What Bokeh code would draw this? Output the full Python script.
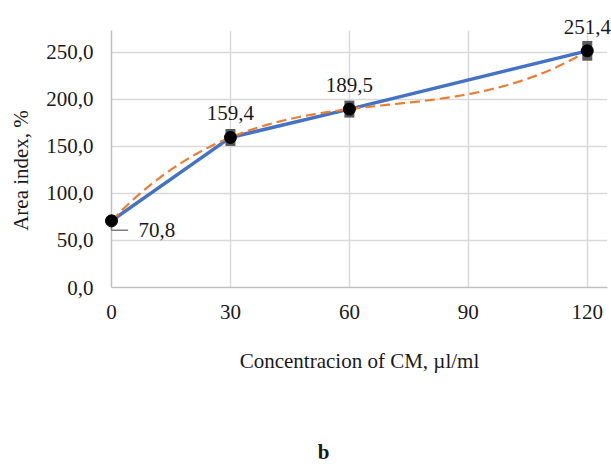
import numpy as np
from bokeh.plotting import figure
from bokeh.models import Range1d, FixedTicker
from bokeh.core.properties import value
from bokeh.embed import file_html
from bokeh.resources import INLINE

# ---- data ----
conc = [0, 30, 60, 120]
area = [70.8, 159.4, 189.5, 251.4]
err = [0.0, 9.0, 9.0, 10.5]
point_labels = ["70,8", "159,4", "189,5", "251,4"]
x_ticks = [0, 30, 60, 90, 120]
y_ticks = [0, 50, 100, 150, 200, 250]
y_tick_labels = ["0,0", "50,0", "100,0", "150,0", "200,0", "250,0"]
x_title = "Concentracion of CM, µl/ml"
y_title = "Area index, %"
panel_label = "b"

FONT = "Liberation Serif"
TXT = "#1a1a1a"
FS = "21px"

p = figure(width=611, height=465, output_backend="svg", toolbar_location=None,
           x_range=Range1d(0, 125.1), y_range=Range1d(0, 273),
           min_border_left=111, min_border_right=4, min_border_top=30,
           min_border_bottom=178)
p.outline_line_color = None
p.background_fill_color = "white"

# grids
p.xgrid.ticker = FixedTicker(ticks=x_ticks)
p.ygrid.ticker = FixedTicker(ticks=y_ticks)
for g in (p.xgrid, p.ygrid):
    g.grid_line_color = "#D9D9D9"
    g.grid_line_width = 1.5

# axes
for ax in (p.xaxis, p.yaxis):
    ax.axis_line_color = "#BFBFBF"
    ax.axis_line_width = 1.5
    ax.major_tick_line_color = None
    ax.minor_tick_line_color = None
    ax.major_tick_out = 0
    ax.major_tick_in = 0
    ax.major_label_text_font = FONT
    ax.major_label_text_font_size = FS
    ax.major_label_text_color = TXT
    ax.axis_label_text_font = FONT
    ax.axis_label_text_font_size = FS
    ax.axis_label_text_font_style = "normal"
    ax.axis_label_text_color = TXT

p.xaxis.ticker = FixedTicker(ticks=x_ticks)
p.xaxis.major_label_standoff = 17
p.xaxis.axis_label = x_title
p.xaxis.axis_label_standoff = 27

p.yaxis.ticker = FixedTicker(ticks=y_ticks)
p.yaxis.major_label_overrides = {t: l for t, l in zip(y_ticks, y_tick_labels)}
p.yaxis.major_label_standoff = 18

TEXT_STYLE = dict(text_font=value(FONT), text_font_size=FS, text_color=TXT)

# series line
p.line(conc, area, line_color="#4472C4", line_width=3.5)

# polynomial trendline (order 3) computed from the data
coef = np.polyfit(conc, area, 3)
xs = np.linspace(min(conc), max(conc), 200)
p.line(xs, np.polyval(coef, xs), line_color="#ED7D31", line_width=2.2,
       line_dash="10 5")

# error bars
eb = p.rect(x=conc, y=area, width=10, width_units="screen",
            height=[2 * e for e in err], fill_color="#595959", line_color=None)
eb.level = "overlay"

# leader line for first label
lx = [conc[0], conc[0], conc[0] + 4.2]
ly = [area[0], area[0] - 10, area[0] - 10]
ll = p.line(lx, ly, line_color="#7F7F7F", line_width=1.5)
ll.level = "overlay"

# markers
mk = p.scatter(conc, area, size=12, fill_color="black", line_color="black")
mk.level = "overlay"

# data labels (text glyphs at overlay level so they are not clipped)
t0 = p.text(x=conc[:1], y=area[:1], text=point_labels[:1], x_offset=27,
            y_offset=9, text_align="left", text_baseline="middle",
            **TEXT_STYLE)
t0.level = "overlay"
t1 = p.text(x=conc[1:], y=area[1:], text=point_labels[1:], x_offset=0,
            y_offset=-24, text_align="center", text_baseline="alphabetic",
            **TEXT_STYLE)
t1.level = "overlay"

# y-axis title
ty = p.text(x=[x_ticks[0]], y=[y_ticks[0]], text=[y_title], angle=np.pi / 2,
            x_offset=-91, y_offset=-117, text_align="center",
            text_baseline="middle", **TEXT_STYLE)
ty.level = "overlay"

# panel label "b"
tb = p.text(x=[x_ticks[0]], y=[y_ticks[0]], text=[panel_label],
            x_offset=212, y_offset=164, text_align="center",
            text_baseline="middle", text_font_style="bold", **TEXT_STYLE)
tb.level = "overlay"

open("out.html", "w").write(file_html(p, INLINE))
